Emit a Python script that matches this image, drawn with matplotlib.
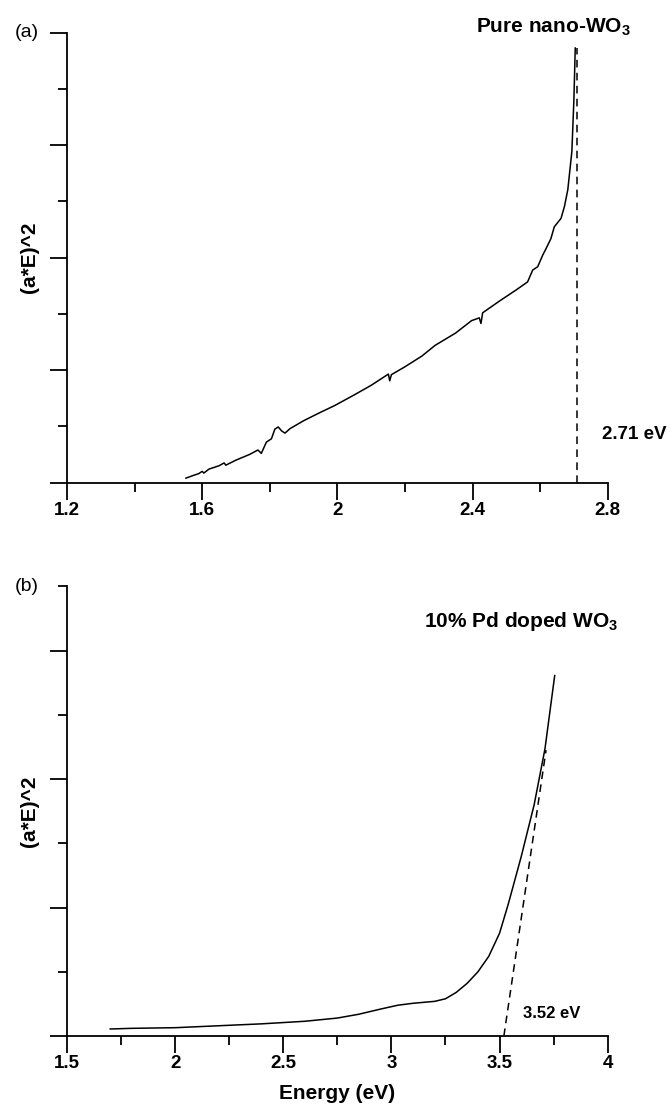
import numpy as np
import matplotlib
matplotlib.use('Agg')
import matplotlib.pyplot as plt
from matplotlib.ticker import MultipleLocator

plt.rcParams['font.family'] = ['Liberation Sans', 'DejaVu Sans']
plt.rcParams['mathtext.fontset'] = 'custom'
plt.rcParams['mathtext.rm'] = 'Liberation Sans:bold'
plt.rcParams['mathtext.bf'] = 'Liberation Sans:bold'

# (a) pure nano-WO3, Tauc plot
energy_a = [1.552, 1.575, 1.590, 1.600, 1.605, 1.620, 1.650, 1.665, 1.670, 1.700,
            1.740, 1.765, 1.775, 1.790, 1.805, 1.815, 1.825, 1.835, 1.845, 1.860,
            1.900, 1.950, 1.992, 2.050, 2.100, 2.151, 2.155, 2.160, 2.200, 2.250,
            2.289, 2.350, 2.397, 2.420, 2.425, 2.430, 2.480, 2.530, 2.563, 2.578,
            2.593, 2.608, 2.615, 2.632, 2.642, 2.662, 2.672, 2.682, 2.694, 2.700,
            2.704]
tauc_a = [0.08, 0.13, 0.16, 0.20, 0.17, 0.24, 0.30, 0.35, 0.31, 0.40,
          0.50, 0.58, 0.52, 0.72, 0.78, 0.95, 0.99, 0.92, 0.88, 0.96,
          1.10, 1.25, 1.37, 1.56, 1.73, 1.93, 1.81, 1.92, 2.06, 2.25,
          2.44, 2.66, 2.88, 2.93, 2.83, 3.02, 3.23, 3.43, 3.57, 3.78,
          3.84, 4.05, 4.13, 4.34, 4.55, 4.70, 4.91, 5.21, 5.89, 6.81,
          7.73]
gap_a = 2.71

# (b) 10% Pd doped WO3
energy_b = [1.70, 1.80, 2.00, 2.20, 2.40, 2.60, 2.75, 2.85, 2.95, 3.03,
            3.10, 3.20, 3.25, 3.30, 3.35, 3.40, 3.45, 3.50, 3.54, 3.60,
            3.66, 3.71, 3.755]
tauc_b = [0.11, 0.12, 0.13, 0.16, 0.19, 0.23, 0.28, 0.34, 0.42, 0.48,
          0.51, 0.54, 0.58, 0.68, 0.82, 1.00, 1.24, 1.60, 2.05, 2.79,
          3.60, 4.47, 5.61]
fit_b_x = [3.52, 3.715]
fit_b_y = [0.0, 4.45]


def style_axis(ax, xlim, xmajor, ymax):
    ax.set_xlim(*xlim)
    ax.set_ylim(0, ymax)
    for side in ('top', 'right'):
        ax.spines[side].set_visible(False)
    for side in ('left', 'bottom'):
        ax.spines[side].set_linewidth(1.3)
    ax.xaxis.set_major_locator(MultipleLocator(xmajor))
    ax.xaxis.set_minor_locator(MultipleLocator(xmajor / 2))
    ax.yaxis.set_major_locator(MultipleLocator(2))
    ax.yaxis.set_minor_locator(MultipleLocator(1))
    ax.tick_params(which='major', direction='out', length=12, width=1.3,
                   labelsize=13.5, pad=2)
    ax.tick_params(which='minor', direction='out', length=6.5, width=1.3)
    ax.tick_params(axis='y', which='both', labelleft=False)
    ax.set_ylabel('(a*E)^2', fontsize=15, fontweight='bold', labelpad=8)


fig = plt.figure(figsize=(6.7, 11.12), dpi=100)
ax1 = fig.add_axes([0.1, 0.566, 0.807, 0.4045])
ax2 = fig.add_axes([0.1, 0.0683, 0.807, 0.4045])

# panel (a)
ax1.plot(energy_a, tauc_a, color='black', lw=1.1)
ax1.plot([gap_a, gap_a], [0, 7.73], color='black', lw=1.1, ls=(0, (5, 3.5)))
style_axis(ax1, (1.2, 2.8), 0.4, 8)
ax1.set_xticks([1.2, 1.6, 2.0, 2.4, 2.8])
ax1.set_xticklabels(['1.2', '1.6', '2', '2.4', '2.8'], fontweight='bold')
ax1.text(2.638, 8.1, r'Pure nano-WO$_\mathbf{3}$', fontsize=15, fontweight='bold',
         ha='center', va='center', clip_on=False)
ax1.text(2.88, 0.85, f'{gap_a:.2f} eV', fontsize=13.5, fontweight='bold',
         ha='center', va='center', clip_on=False)
ax1.text(-0.075, 1.0, '(a)', transform=ax1.transAxes, fontsize=14,
         ha='center', va='center')

# panel (b)
ax2.plot(energy_b, tauc_b, color='black', lw=1.1)
ax2.plot(fit_b_x, fit_b_y, color='black', lw=1.1, ls=(0, (5, 3.5)))
style_axis(ax2, (1.5, 4.0), 0.5, 7)
ax2.set_xticks([1.5, 2.0, 2.5, 3.0, 3.5, 4.0])
ax2.set_xticklabels(['1.5', '2', '2.5', '3', '3.5', '4'], fontweight='bold')
ax2.text(3.60, 6.45, r'10% Pd doped WO$_\mathbf{3}$', fontsize=15,
         fontweight='bold', ha='center', va='center')
ax2.text(3.74, 0.35, f'{fit_b_x[0]:.2f} eV', fontsize=12, fontweight='bold',
         ha='center', va='center')
ax2.text(-0.075, 1.0, '(b)', transform=ax2.transAxes, fontsize=14,
         ha='center', va='center')
ax2.set_xlabel('Energy (eV)', fontsize=15, fontweight='bold', labelpad=8)

fig.savefig('out.png', dpi=100)
